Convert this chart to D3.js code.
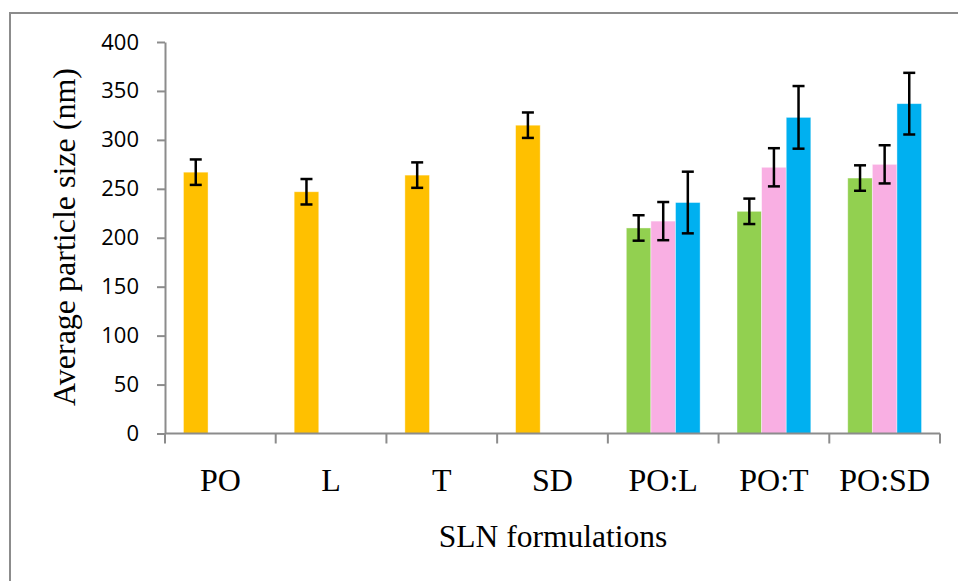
<!DOCTYPE html>
<html>
<head>
<meta charset="utf-8">
<script src="https://cdn.jsdelivr.net/npm/d3@7"></script>
<style>
  body { margin: 0; background: #fff; }
  svg { display: block; }
</style>
</head>
<body>
<div id="chart"></div>
<script>
// categories and the three bar slots per category
const categories = ["PO", "L", "T", "SD", "PO:L", "PO:T", "PO:SD"];
const slots = ["s1", "s2", "s3"];

// values (nm), null = no bar
const series1 = [267, 247, 264, 315, 210, 227, 261];
const series2 = [null, null, null, null, 217, 272, 275];
const series3 = [null, null, null, null, 236, 323, 337];

// error bar half-widths
const err1 = [13, 13, 13, 13, 13, 13, 13];
const err2 = [null, null, null, null, 19.5, 19.5, 19.5];
const err3 = [null, null, null, null, 31.5, 32, 31.5];

const yTicks = [0, 50, 100, 150, 200, 250, 300, 350, 400];

// per-point colours: single lipids orange, mixtures green
const colors1 = ["#FFC000", "#FFC000", "#FFC000", "#FFC000", "#92D050", "#92D050", "#92D050"];
const color2 = "#F9AFE3";
const color3 = "#00B0F0";

const W = 958, H = 581;
const margin = {top: 42, right: 18, bottom: 147.5, left: 165};
const width = W - margin.left - margin.right;
const height = H - margin.top - margin.bottom;

const svg = d3.select("#chart").append("svg")
    .attr("width", W)
    .attr("height", H);

// outer frame (only left and top edges visible)
svg.append("rect")
    .attr("x", 10).attr("y", 13)
    .attr("width", W + 20).attr("height", H + 20)
    .attr("fill", "none")
    .attr("stroke", "#8c8c8c")
    .attr("stroke-width", 2);

const g = svg.append("g")
    .attr("transform", "translate(" + margin.left + "," + margin.top + ")");

const xScale = d3.scaleBand().domain(categories).range([0, width]).paddingInner(0).paddingOuter(0);
const inner = d3.scaleBand().domain(slots).range([0, xScale.bandwidth()]).paddingOuter(0.75);
const yScale = d3.scaleLinear().domain([0, 400]).range([height, 0]);

// build the bar table
const bars = [];
categories.forEach((c, i) => {
    bars.push({cat: c, slot: "s1", v: series1[i], e: err1[i], color: colors1[i]});
    if (series2[i] != null) bars.push({cat: c, slot: "s2", v: series2[i], e: err2[i], color: color2});
    if (series3[i] != null) bars.push({cat: c, slot: "s3", v: series3[i], e: err3[i], color: color3});
});

const barX = d => xScale(d.cat) + inner(d.slot);

g.selectAll(".bar")
    .data(bars)
    .join("rect")
    .attr("class", "bar")
    .attr("x", d => barX(d))
    .attr("width", inner.bandwidth())
    .attr("y", d => yScale(d.v))
    .attr("height", d => height - yScale(d.v))
    .attr("fill", d => d.color)
    .attr("stroke", "#ffffff")
    .attr("stroke-opacity", 0.5)
    .attr("stroke-width", 0.8);

// error bars
const capW = 12;
const eb = g.selectAll(".err")
    .data(bars)
    .join("g")
    .attr("class", "err")
    .attr("transform", d => "translate(" + (barX(d) + inner.bandwidth() / 2) + ",0)")
    .attr("stroke", "#000")
    .attr("stroke-width", 2.5);
eb.append("line")
    .attr("x1", 0).attr("x2", 0)
    .attr("y1", d => yScale(d.v + d.e))
    .attr("y2", d => yScale(d.v - d.e));
eb.append("line")
    .attr("x1", -capW / 2).attr("x2", capW / 2)
    .attr("y1", d => yScale(d.v + d.e))
    .attr("y2", d => yScale(d.v + d.e));
eb.append("line")
    .attr("x1", -capW / 2).attr("x2", capW / 2)
    .attr("y1", d => yScale(d.v - d.e))
    .attr("y2", d => yScale(d.v - d.e));

// y axis
const yAxisG = g.append("g")
    .attr("class", "yAxisG")
    .call(d3.axisLeft(yScale).tickValues(yTicks).tickSize(8).tickPadding(18).tickSizeOuter(0));
yAxisG.select(".domain").attr("stroke", "#8c8c8c").attr("stroke-width", 2);
yAxisG.selectAll(".tick line").attr("stroke", "#8c8c8c").attr("stroke-width", 2);
yAxisG.selectAll(".tick text")
    .attr("font-family", "'Open Sans', 'Liberation Sans', sans-serif")
    .attr("font-size", 22)
    .attr("fill", "#000");

// x axis: ticks at category boundaries
const xAxisG = g.append("g")
    .attr("class", "xAxisG")
    .attr("transform", "translate(0," + height + ")");
xAxisG.append("line")
    .attr("x1", 0).attr("x2", width)
    .attr("stroke", "#8c8c8c").attr("stroke-width", 2);
const boundaries = categories.map(c => xScale(c)).concat([width]);
xAxisG.selectAll(".xtick")
    .data(boundaries)
    .join("line")
    .attr("class", "xtick")
    .attr("x1", d => d).attr("x2", d => d)
    .attr("y1", 0).attr("y2", 10)
    .attr("stroke", "#8c8c8c").attr("stroke-width", 2);
xAxisG.selectAll(".xlabel")
    .data(categories)
    .join("text")
    .attr("class", "xlabel")
    .attr("x", d => xScale(d) + xScale.bandwidth() / 2)
    .attr("y", 57)
    .attr("text-anchor", "middle")
    .attr("font-family", "'Liberation Serif', 'Times New Roman', serif")
    .attr("font-size", 32)
    .attr("fill", "#000")
    .text(d => d);

// axis titles
svg.append("text")
    .attr("x", 553)
    .attr("y", 547)
    .attr("text-anchor", "middle")
    .attr("font-family", "'Liberation Serif', 'Times New Roman', serif")
    .attr("font-size", 31.5)
    .attr("fill", "#000")
    .text("SLN formulations");

svg.append("text")
    .attr("transform", "translate(75,237) rotate(-90)")
    .attr("text-anchor", "middle")
    .attr("font-family", "'Liberation Serif', 'Times New Roman', serif")
    .attr("font-size", 32)
    .attr("fill", "#000")
    .text("Average particle size (nm)");
</script>
</body>
</html>
